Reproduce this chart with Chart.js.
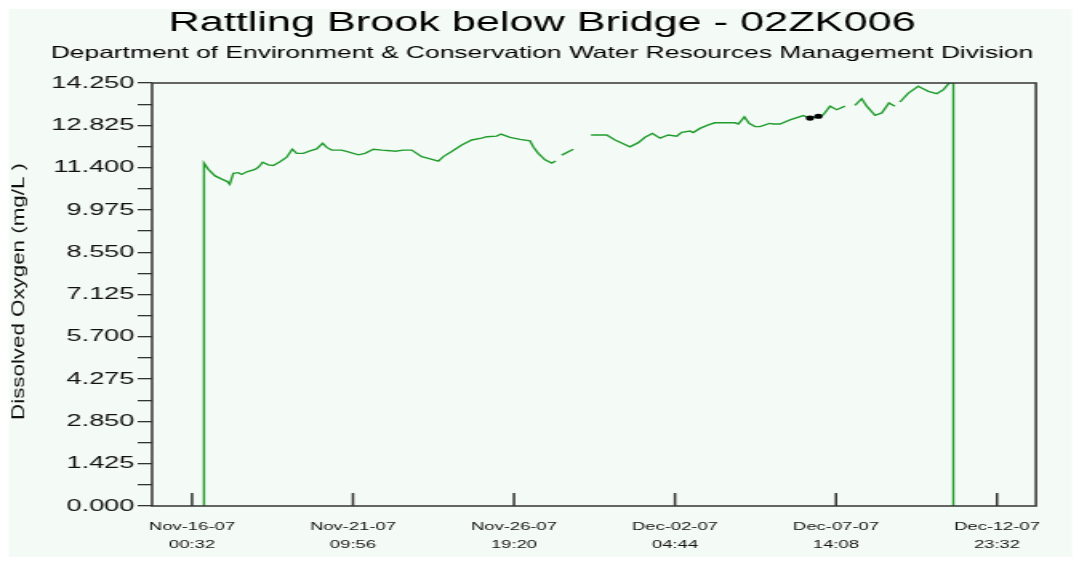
<!DOCTYPE html>
<html>
<head>
<meta charset="utf-8">
<title>Rattling Brook below Bridge - 02ZK006</title>
<script src="https://cdn.jsdelivr.net/npm/chart.js@4.4.1/dist/chart.umd.min.js"></script>
<style>
  html, body { margin: 0; padding: 0; background: #ffffff; }
  #doChart { display: block; }
</style>
</head>
<body>
<!-- canvas is drawn narrow and widened by CSS, like the station plots -->
<canvas id="doChart" width="674" height="564" style="width:1079px;height:564px"></canvas>
<script>
// ============================================
// Dissolved oxygen - Rattling Brook below Bridge
// ============================================

const chartTitle = 'Rattling Brook below Bridge - 02ZK006';
const chartSubtitle = 'Department of Environment & Conservation Water Resources Management Division';
const yAxisTitle = 'Dissolved Oxygen (mg/L )';

// hours after Nov-16-07 00:32
const hours = [
    9.6, 9.6, 13.1, 18.5, 23.9, 28.4, 30.3, 33.2, 37.2, 39.9,
    44.0, 50.6, 53.3, 56.8, 61.3, 65.3, 70.7, 76.1, 80.6, 84.1,
    89.5, 94.8, 100.2, 105.0, 108.3, 112.3, 120.3, 125.6, 133.7, 139.0,
    145.7, 152.5, 159.1, 163.2, 169.8, 176.6, 184.6, 189.9, 198.0, 202.0,
    208.7, 216.8, 224.8, 232.8, 236.9, 244.9, 248.4, 255.6, 263.6, 271.7,
    274.3, 278.3, 283.7, 289.1, 292.3, 294.7, 297.1, 306.4, 313.0, 320.7,
    333.3, 340.0, 352.0, 358.7, 364.1, 370.0, 376.2, 382.8, 389.6, 393.6,
    400.3, 402.9, 408.3, 415.0, 420.3, 436.4, 439.1, 443.9, 447.7, 452.5,
    456.5, 464.0, 467.2, 472.6, 480.6, 491.3, 496.7, 503.4, 507.4, 512.8,
    518.2, 524.8, 529.0, 532.9, 538.3, 542.3, 549.0, 554.4, 560.2, 565.0,
    567.0, 569.0, 575.7, 583.7, 586.4, 591.8, 598.5, 603.8, 607.9, 611.9, 611.9
];

// mg/L, null = no record
const oxygen = [
    0, 11.55, 11.34, 11.12, 11.01, 10.93, 10.84, 11.21, 11.23, 11.17,
    11.26, 11.34, 11.41, 11.58, 11.49, 11.47, 11.60, 11.75, 12.02, 11.88,
    11.88, 11.96, 12.03, 12.22, 12.08, 11.99, 11.99, 11.93, 11.83, 11.88,
    12.02, 11.99, 11.97, 11.95, 11.99, 11.99, 11.77, 11.71, 11.62, 11.77,
    11.94, 12.16, 12.33, 12.39, 12.44, 12.46, 12.53, 12.42, 12.35, 12.30,
    12.10, 11.88, 11.66, 11.55, 11.62, null, 11.82, 12.02, null, 12.50,
    12.50, 12.33, 12.10, 12.24, 12.42, 12.55, 12.39, 12.50, 12.46, 12.59,
    12.63, 12.58, 12.72, 12.84, 12.91, 12.91, 12.87, 13.11, 12.89, 12.78,
    12.78, 12.89, 12.87, 12.87, 13.01, 13.15, 13.07, 13.13, 13.18, 13.47,
    13.35, 13.47, null, 13.50, 13.72, 13.47, 13.16, 13.24, 13.58, 13.47,
    null, 13.61, 13.91, 14.14, 14.08, 13.97, 13.89, 14.02, 14.22, 14.35, 0
];

// flagged readings (black dots)
const flagHours = [496.7, 503.4];
const flagOxygen = [13.07, 13.13];

// axis ticks
const tickHours = [0, 129.4, 258.8, 388.2, 517.6, 647.0];
const tickDates = ['Nov-16-07', 'Nov-21-07', 'Nov-26-07', 'Dec-02-07', 'Dec-07-07', 'Dec-12-07'];
const tickTimes = ['00:32', '09:56', '19:20', '04:44', '14:08', '23:32'];
const yMajor = [0, 1.425, 2.85, 4.275, 5.7, 7.125, 8.55, 9.975, 11.4, 12.825, 14.25];

const X_MIN = -32.08;
const X_MAX = 678.3;

const GREEN = '#1f9c2b';
const AXIS_COLOR = '#333333';
const TEXT_COLOR = '#111111';
const PANEL_COLOR = '#f4faf6';
const FONT = '"Liberation Sans", Arial, sans-serif';


// major ticks carry labels, a minor tick sits halfway between them
const yTicks = [];
yMajor.forEach((v, i) => {
    yTicks.push(v);
    if (i < yMajor.length - 1) yTicks.push((v + yMajor[i + 1]) / 2);
});


// ============================================
// panel, frame, inner x ticks, y title
// ============================================

const framePlugin = {

    id: 'frame',

    beforeDraw(chart) {
        const ctx = chart.ctx;
        ctx.save();
        ctx.fillStyle = PANEL_COLOR;
        ctx.fillRect(5.6, 9, 664, 548);
        ctx.restore();
    },

    afterDraw(chart) {
        const { ctx, chartArea: a, scales } = chart;

        ctx.save();
        ctx.strokeStyle = AXIS_COLOR;
        ctx.lineWidth = 1.5;
        ctx.strokeRect(a.left, a.top, a.right - a.left, a.bottom - a.top);

        // x ticks point up into the plot
        ctx.beginPath();
        scales.x.ticks.forEach(t => {
            const px = scales.x.getPixelForValue(t.value);
            ctx.moveTo(px, a.bottom);
            ctx.lineTo(px, a.bottom - 13);
        });
        ctx.stroke();

        // tall narrow axis title
        ctx.translate(11.8, 291.5);
        ctx.rotate(-Math.PI / 2);
        ctx.scale(2.03, 1);
        ctx.font = '11px ' + FONT;
        ctx.fillStyle = TEXT_COLOR;
        ctx.textAlign = 'center';
        ctx.textBaseline = 'middle';
        ctx.fillText(yAxisTitle, 0, 0);
        ctx.restore();
    }
};


// ============================================
// chart
// ============================================

const ctx =
    document
    .getElementById('doChart')
    .getContext('2d');

new Chart(ctx, {

    type: 'line',

    data: {

        datasets: [

            {
                label: 'Flagged',
                data: flagHours.map((h, i) => ({ x: h, y: flagOxygen[i] })),
                showLine: false,
                pointRadius: 2.6,
                pointBackgroundColor: '#000000',
                pointBorderColor: '#000000',
                pointBorderWidth: 0
            },

            {
                label: 'Dissolved Oxygen (mg/L)',
                data: hours.map((h, i) => ({ x: h, y: oxygen[i] })),
                borderColor: GREEN,
                borderWidth: 1.4,
                pointRadius: 0,
                spanGaps: false,
                tension: 0
            }
        ]
    },

    options: {

        responsive: false,

        devicePixelRatio: 1,

        animation: false,

        layout: {
            padding: { left: 30, right: 26.9, top: 0, bottom: 0 }
        },

        plugins: {

            legend: { display: false },

            tooltip: { enabled: false },

            title: {
                display: true,
                text: chartTitle,
                color: '#000000',
                font: { family: FONT, size: 27, weight: 'normal', lineHeight: 1.2 },
                padding: { top: 7.8, bottom: 0 }
            },

            subtitle: {
                display: true,
                text: chartSubtitle,
                color: '#000000',
                font: { family: FONT, size: 16.5, weight: 'normal', lineHeight: 1.2 },
                padding: { top: 2.9, bottom: 20.1 }
            }
        },

        scales: {

            x: {
                type: 'linear',
                min: X_MIN,
                max: X_MAX,
                afterBuildTicks: scale => {
                    scale.ticks = tickHours.map(v => ({ value: v }));
                },
                afterFit: scale => {
                    scale.height = 58;
                },
                grid: { display: false, drawTicks: false },
                border: { display: false },
                ticks: {
                    autoSkip: false,
                    maxRotation: 0,
                    padding: 12,
                    color: TEXT_COLOR,
                    font: { family: FONT, size: 11.5, lineHeight: 1.57 },
                    callback: (v, i) => [tickDates[i], tickTimes[i]]
                }
            },

            y: {
                min: 0,
                max: 14.25,
                afterBuildTicks: scale => {
                    scale.ticks = yTicks.map(v => ({ value: v }));
                },
                afterFit: scale => {
                    scale.width = 65;
                },
                grid: {
                    drawOnChartArea: false,
                    drawTicks: true,
                    tickLength: 9,
                    color: AXIS_COLOR,
                    lineWidth: 1.3
                },
                border: { display: false },
                ticks: {
                    autoSkip: false,
                    padding: 2,
                    color: TEXT_COLOR,
                    font: { family: FONT, size: 17 },
                    callback: (v, i) => (i % 2 === 0 ? v.toFixed(3) : '')
                }
            }
        }
    },

    plugins: [framePlugin]
});
</script>
</body>
</html>
